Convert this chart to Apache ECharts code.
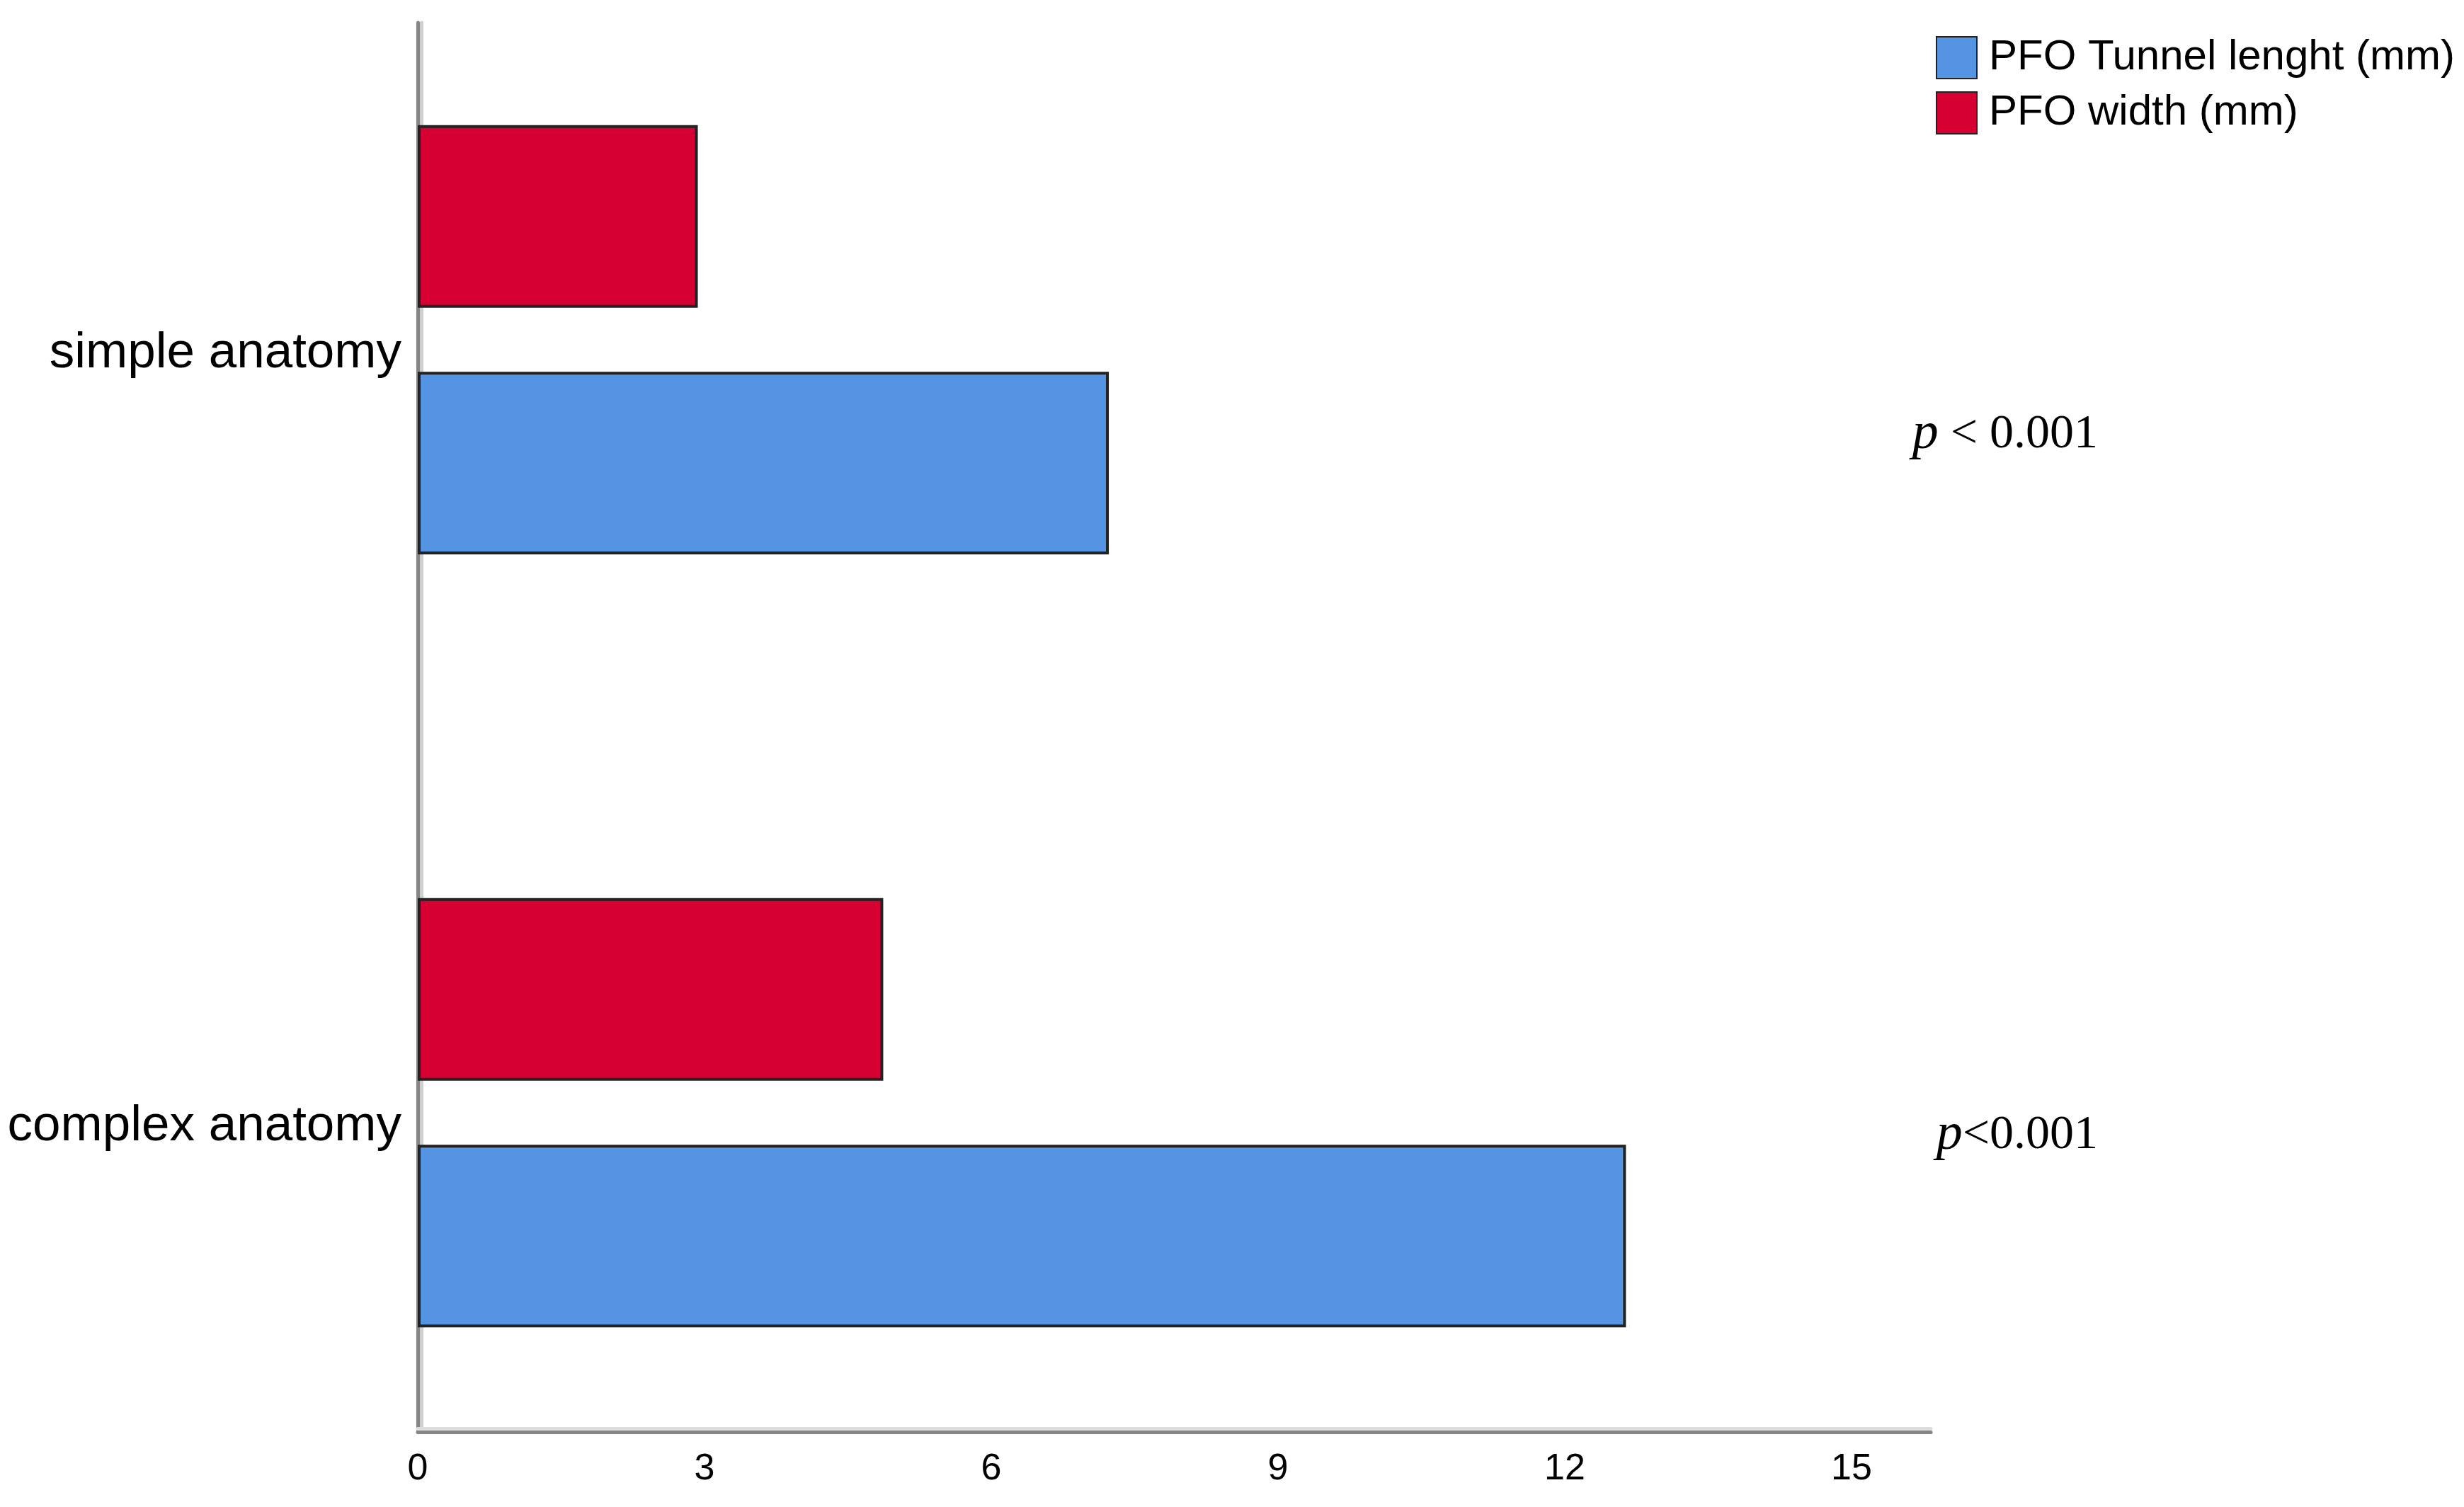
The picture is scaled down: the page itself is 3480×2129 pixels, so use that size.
<!DOCTYPE html>
<html>
<head>
<meta charset="utf-8">
<script src="https://cdn.jsdelivr.net/npm/echarts@6/dist/echarts.min.js"></script>
<style>
  html, body { margin: 0; padding: 0; background: #fff; }
  #chart { width: 3480px; height: 2129px; }
</style>
</head>
<body>
<div id="chart"></div>
<script>
// categories bottom -> top
var categories = ['complex anatomy', 'simple anatomy'];
var tunnelName = 'PFO Tunnel lenght (mm)';
var widthName = 'PFO width (mm)';
var tunnelLength = [12.64, 7.23];
var pfoWidth = [4.87, 2.93];
var xMax = 15.83;
var xStep = 3;
// p-value notes, bottom -> top
var pLabels = ['p<0.001', 'p < 0.001'];

var chart = echarts.init(document.getElementById('chart'));

var barBorder = { borderColor: '#222', borderWidth: 4 };

// p-value text built as rich text: italic p + roman rest
function pText(s) {
  return '{i|p}{r|' + s.slice(1) + '}';
}
var pRich = {
  i: { fontFamily: 'Liberation Serif', fontStyle: 'italic', fontSize: 74, color: '#000' },
  r: { fontFamily: 'Liberation Serif', fontSize: 68, color: '#000' }
};

var option = {
  backgroundColor: '#fff',
  animation: false,
  textStyle: { fontFamily: 'Liberation Sans' },
  legend: {
    orient: 'vertical',
    left: 2729,
    top: 46,
    itemWidth: 57,
    itemHeight: 59,
    itemGap: 17,
    icon: 'rect',
    data: [tunnelName, widthName],
    textStyle: { fontSize: 60, color: '#000', padding: [0, 0, 0, 12] }
  },
  grid: [
    // frame grid: carries the visible axis lines and tick labels
    { left: 590, right: 753, top: 32, bottom: 106, outerBoundsMode: 'none' },
    // bar grid: category bands sized to the bar groups
    { left: 590, right: 753, top: -66, height: 2184, outerBoundsMode: 'none' }
  ],
  xAxis: [
    {
      gridIndex: 0,
      type: 'value',
      min: 0,
      max: xMax,
      interval: xStep,
      splitLine: { show: false },
      axisTick: { show: false },
      axisLine: {
        show: true,
        lineStyle: { color: '#858585', width: 5, shadowColor: '#dcdcdc', shadowOffsetY: -5, shadowBlur: 0 }
      },
      axisLabel: {
        fontSize: 52,
        color: '#000',
        margin: 27,
        showMaxLabel: false,
        formatter: function (v) { return v % xStep === 0 ? String(v) : ''; }
      }
    },
    {
      gridIndex: 1,
      type: 'value',
      min: 0,
      max: xMax,
      show: false
    }
  ],
  yAxis: [
    {
      gridIndex: 0,
      type: 'category',
      data: categories,
      axisTick: { show: false },
      axisLabel: { show: false },
      axisLine: {
        show: true,
        lineStyle: { color: '#858585', width: 5, shadowColor: '#cfcfcf', shadowOffsetX: 5, shadowBlur: 0 }
      }
    },
    {
      gridIndex: 1,
      type: 'category',
      data: categories,
      axisTick: { show: false },
      axisLine: { show: false },
      axisLabel: {
        fontSize: 71,
        color: '#000',
        margin: 23,
        verticalAlign: 'top',
        lineHeight: 39
      }
    }
  ],
  series: [
    {
      name: widthName,
      type: 'bar',
      xAxisIndex: 1,
      yAxisIndex: 1,
      data: pfoWidth,
      barWidth: 258,
      barGap: '35%',
      itemStyle: Object.assign({ color: '#d70032' }, barBorder)
    },
    {
      name: tunnelName,
      type: 'bar',
      xAxisIndex: 1,
      yAxisIndex: 1,
      data: tunnelLength,
      barWidth: 258,
      barGap: '35%',
      itemStyle: Object.assign({ color: '#5594e3' }, barBorder)
    }
  ],
  graphic: [
    {
      type: 'text',
      x: 2963,
      y: 614,
      style: { text: pText(pLabels[1]), rich: pRich, align: 'right', verticalAlign: 'middle' }
    },
    {
      type: 'text',
      x: 2963,
      y: 1604,
      style: { text: pText(pLabels[0]), rich: pRich, align: 'right', verticalAlign: 'middle' }
    }
  ]
};

chart.setOption(option);
</script>
</body>
</html>
